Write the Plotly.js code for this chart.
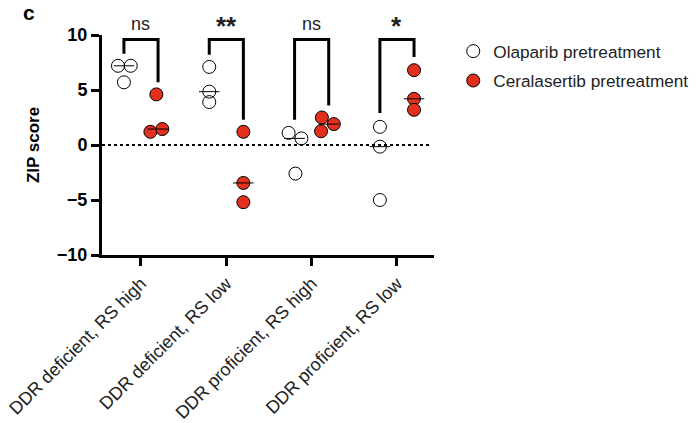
<!DOCTYPE html>
<html><head><meta charset="utf-8">
<script src="https://cdn.plot.ly/plotly-3.0.1.min.js"></script>
<style>html,body{margin:0;padding:0;background:#fff}#chart{width:696px;height:423px}</style>
</head><body><div id="chart"></div>
<script>
const categories = ["DDR deficient, RS high","DDR deficient, RS low","DDR proficient, RS high","DDR proficient, RS low"];
const olaparib = [[7.2,7.2,5.7],[7.1,4.85,3.9],[1.1,0.6,-2.6],[1.65,-0.15,-5.0]];
const olaparibJitter = [[-0.07,0.08,0],[0,0,0],[-0.07,0.08,0.01],[0,0,0]];
const ceralasertib = [[4.6,1.2,1.45],[1.2,-3.45,-5.2],[2.5,1.9,1.25],[6.8,4.2,3.2]];
const ceralasertibJitter = [[-0.02,-0.09,0.05],[0,0,0],[-0.08,0.06,-0.09],[0,0,0]];
const bracketLeftBottom = [8.3,8.2,2.3,2.9];
const bracketRightBottom = [5.7,2.3,3.6,8.0];
const bracketTop = 9.6;
const sigLabels = ["ns","**","ns","*"];
const yTicks = [-10,-5,0,5,10];

const FONT = 'Liberation Sans, Arial, Helvetica, sans-serif';
const OFF = 0.2, HALF = 0.12;
function median(a){const s=[...a].sort((p,q)=>p-q);return s[Math.floor(s.length/2)];}
function pts(vals, jit, off){
  const x=[],y=[];
  vals.forEach((g,i)=>g.forEach((v,j)=>{x.push(i+off+jit[i][j]);y.push(v);}));
  return {x,y};
}
const o = pts(olaparib, olaparibJitter, -OFF);
const c = pts(ceralasertib, ceralasertibJitter, OFF);
function medLines(vals, off){
  const x=[],y=[];
  vals.forEach((g,i)=>{const m=median(g);x.push(i+off-HALF,i+off+HALF,null);y.push(m,m,null);});
  return {x,y};
}
const mo = medLines(olaparib,-OFF), mc = medLines(ceralasertib,OFF);
const data = [
  {x:o.x,y:o.y,mode:'markers',name:'Olaparib pretreatment',legendgroup:'a',cliponaxis:false,
   marker:{size:13,color:'rgba(255,255,255,0)',line:{color:'#000',width:1}}},
  {x:c.x,y:c.y,mode:'markers',name:'Ceralasertib pretreatment',legendgroup:'b',cliponaxis:false,
   marker:{size:13,color:'#e3301e',line:{color:'#000',width:1}}},
  {x:mo.x,y:mo.y,mode:'lines',line:{color:'#000',width:1},showlegend:false,hoverinfo:'skip',cliponaxis:false},
  {x:mc.x,y:mc.y,mode:'lines',line:{color:'#000',width:1},showlegend:false,hoverinfo:'skip',cliponaxis:false}
];

const shapes = [{type:'line',xref:'paper',yref:'y',x0:0,x1:0.988,y0:0,y1:0,line:{color:'#000',width:2,dash:'dot'}}];
const annotations = [];
categories.forEach((cat,i)=>{
  shapes.push({type:'path',xref:'x',yref:'y',
    path:`M ${i-OFF} ${bracketLeftBottom[i]} L ${i-OFF} ${bracketTop} L ${i+OFF} ${bracketTop} L ${i+OFF} ${bracketRightBottom[i]}`,
    line:{color:'#000',width:3}});
  const star = sigLabels[i] !== 'ns';
  annotations.push({x:i,y:bracketTop,xref:'x',yref:'y',text:star?'<b>'+sigLabels[i]+'</b>':sigLabels[i],showarrow:false,
    yanchor:'bottom',yshift:star?-4:3,font:{size:star?26:18,color:'#222',family:FONT}});
});
annotations.push({xref:'paper',yref:'paper',x:-0.245,y:1.165,xanchor:'left',yanchor:'top',text:'<b>c</b>',showarrow:false,
  font:{size:21,color:'#000',family:FONT}});

const layout = {
  width:696,height:423,
  margin:{l:102,r:262,t:35,b:168,autoexpand:false},
  paper_bgcolor:'#fff',plot_bgcolor:'#fff',
  font:{family:FONT,color:'#000'},
  xaxis:{range:[-0.457,3.434],tickvals:[0,1,2,3],ticktext:categories,tickangle:-45,
    showgrid:false,zeroline:false,showline:true,linecolor:'#000',linewidth:3,
    ticks:'outside',ticklen:8,tickwidth:3,tickcolor:'#000',tickfont:{size:18,color:'#222'}},
  yaxis:{range:[-10,10],tickvals:yTicks,ticktext:yTicks.map(v=>'<b>'+(v<0?'\u2212'+(-v):v)+'</b>'),
    showgrid:false,zeroline:false,showline:true,linecolor:'#000',linewidth:3,
    ticks:'outside',ticklen:8,tickwidth:3,tickcolor:'#000',tickfont:{size:18,color:'#000'},
    title:{text:'<b>ZIP score</b>',font:{size:17,color:'#000'},standoff:13}},
  legend:{x:1.058,y:1.007,xanchor:'left',yanchor:'top',font:{size:17.2,color:'#222'},tracegroupgap:4,itemsizing:'trace'},
  shapes:shapes,annotations:annotations,showlegend:true
};
Plotly.newPlot('chart',data,layout,{displayModeBar:false});
</script></body></html>
